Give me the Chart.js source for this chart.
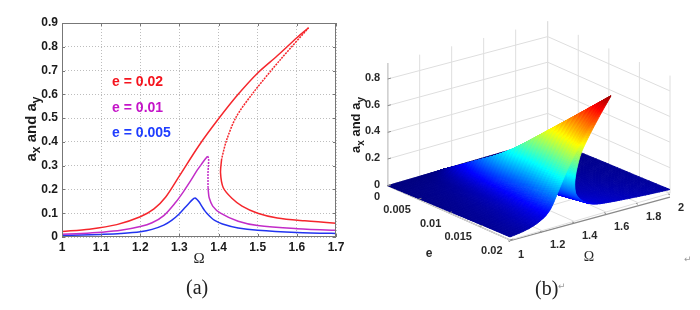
<!DOCTYPE html>
<html>
<head>
<meta charset="utf-8">
<script src="https://cdn.jsdelivr.net/npm/chart.js@4"></script>
<style>
html,body{margin:0;padding:0;background:#fff;width:700px;height:310px;overflow:hidden}
canvas{position:absolute;top:0;filter:blur(0.45px)}
#a{left:0}
#b{left:340px}
.cap{position:absolute;font-family:"Liberation Serif",serif;font-size:20px;color:#222;line-height:22px;filter:blur(0.3px)}
.ret{position:absolute;font-family:"DejaVu Sans",sans-serif;font-size:9px;color:#999}
</style>
</head>
<body>
<canvas id="a" width="350" height="310"></canvas>
<canvas id="b" width="360" height="310"></canvas>
<div class="cap" style="left:186px;top:276px">(a)</div>
<div class="cap" style="left:535px;top:277px">(b)</div>
<div class="ret" style="left:558px;top:281px">↵</div>
<div class="ret" style="left:684px;top:254px">↵</div>
<script>
// ---- values: each curve shares one index layout
// idx 0-13 rising branch, 13-18 fold (dashed when unstable), 18-28 falling branch
const omegaE020 = [1,1.07,1.14,1.2,1.235,1.265,1.3,1.35,1.4,1.45,1.5,1.55,1.6,1.63, 1.56,1.49,1.445,1.42,1.408, 1.405,1.412,1.434,1.46,1.5,1.55,1.62,1.7,1.85,2];
const ampE020   = [.023,.033,.052,.085,.118,.168,.257,.385,.497,.6,.69,.762,.838,.88, .75,.61,.505,.405,.33, .27,.207,.163,.13,.1,.08,.068,.058,.042,.03];
const omegaE015 = [1,1.05,1.1,1.15,1.2,1.24,1.28,1.32,1.36,1.39,1.42,1.45,1.47,1.49, 1.47,1.44,1.42,1.4,1.39, 1.39,1.395,1.41,1.44,1.49,1.55,1.62,1.7,1.85,2];
const ampE015   = [.018,.022,.03,.042,.064,.1,.16,.24,.33,.4,.47,.53,.565,.6, .55,.48,.42,.35,.29, .24,.2,.15,.11,.07,.058,.048,.042,.03,.022];
const omegaE010 = [1,1.05,1.1,1.15,1.2,1.23,1.26,1.29,1.31,1.33,1.345,1.358,1.367,1.372, 1.3745,1.374,1.373,1.373,1.373, 1.374,1.376,1.385,1.405,1.45,1.5,1.6,1.7,1.85,2];
const ampE010   = [.012,.015,.02,.028,.044,.06,.09,.145,.19,.24,.28,.31,.33,.34, .33,.3,.27,.24,.21, .19,.165,.13,.1,.066,.048,.035,.028,.02,.016];
const omegaE005 = [1,1.05,1.1,1.15,1.2,1.23,1.26,1.28,1.3,1.315,1.325,1.332,1.337,1.34, 1.345,1.35,1.355,1.36,1.365, 1.37,1.38,1.39,1.41,1.45,1.5,1.6,1.7,1.85,2];
const ampE005   = [.006,.008,.011,.015,.022,.032,.05,.07,.098,.125,.143,.155,.162,.164, .158,.148,.135,.122,.11, .1,.083,.07,.055,.038,.028,.019,.015,.011,.008];
const omegaE000 = omegaE005;
const ampE000   = [0,0,0,0,0,0,0,0,0,0,0,0,0,0, 0,0,0,0,0, 0,0,0,0,0,0,0,0,0,0];

const xTicksA = [1,1.1,1.2,1.3,1.4,1.5,1.6,1.7];
const yTicksA = [0,.1,.2,.3,.4,.5,.6,.7,.8,.9];
const legendLabels = ['e = 0.02','e = 0.01','e = 0.005'];
const legendColors = ['#f5141e','#c414c8','#1e3cff'];
const lineColors   = ['#f5262c','#c22cc8','#2234f0'];

const eRows     = [0,.005,.01,.015,.02];
const omegaRows = [omegaE000,omegaE005,omegaE010,omegaE015,omegaE020];
const ampRows   = [ampE000,ampE005,ampE010,ampE015,ampE020];
const omegaTicksB = [1,1.2,1.4,1.6,1.8,2];
const eTicksB     = [0,.005,.01,.015,.02];
const eTickText   = ['0','0.005','0.01','0.015','0.02'];
const zTicksB     = [0,.2,.4,.6,.8];
const zTopB = 0.92;

const FONT = '"Liberation Sans",Arial,sans-serif';
Chart.defaults.animation = false;

function pts(xs,ys,from,to){const r=[];for(let i=from;i<=to;i++)r.push({x:xs[i],y:ys[i]});return r;}
function curve(xs,ys,from,to,color,dash){
  return {type:'scatter',showLine:true,data:pts(xs,ys,from,to),borderColor:color,backgroundColor:color,
    borderWidth:1.5,pointRadius:0,tension:.3,borderDash:dash||[]};
}

// subscripted rotated title drawn piece by piece
function ayTitle(ctx,cx,cy,size,sub){
  const parts=[['a',0],['x',1],[' and a',0],['y',1]];
  ctx.save();ctx.translate(cx,cy);ctx.rotate(-Math.PI/2);ctx.fillStyle='#1a1a1a';ctx.textBaseline='alphabetic';ctx.textAlign='left';
  let w=0;parts.forEach(p=>{ctx.font='bold '+(p[1]?sub:size)+'px '+FONT;w+=ctx.measureText(p[0]).width;});
  let x=-w/2;parts.forEach(p=>{ctx.font='bold '+(p[1]?sub:size)+'px '+FONT;ctx.fillText(p[0],x,p[1]?4:0);x+=ctx.measureText(p[0]).width;});
  ctx.restore();
}

// ---- panel (a)
const framePlugin={id:'frame',afterDraw(c){
  const {ctx,chartArea:A,scales:{x,y}}=c;
  ctx.save();ctx.strokeStyle='#777';ctx.lineWidth=1;
  ctx.strokeRect(A.left+.5,A.top+.5,A.right-A.left-1,A.bottom-A.top-1);
  ctx.beginPath();
  xTicksA.forEach(v=>{const p=Math.round(x.getPixelForValue(v))+.5;ctx.moveTo(p,A.top);ctx.lineTo(p,A.top+3);ctx.moveTo(p,A.bottom);ctx.lineTo(p,A.bottom-3);});
  yTicksA.forEach(v=>{const p=Math.round(y.getPixelForValue(v))+.5;ctx.moveTo(A.left,p);ctx.lineTo(A.left+3,p);ctx.moveTo(A.right,p);ctx.lineTo(A.right-3,p);});
  ctx.stroke();
  ctx.textAlign='left';ctx.textBaseline='middle';ctx.font='bold 14px '+FONT;
  const lx=x.getPixelForValue(1.128);
  [.65,.542,.438].forEach((v,i)=>{ctx.fillStyle=legendColors[i];ctx.fillText(legendLabels[i],lx,y.getPixelForValue(v));});
  ctx.restore();
  ayTitle(ctx,36,129,15,12);
}};
new Chart(document.getElementById('a'),{
  type:'scatter',
  data:{datasets:[
    curve(omegaE020,ampE020,0,13,lineColors[0]),
    curve(omegaE020,ampE020,13,18,lineColors[0],[2,1]),
    curve(omegaE020,ampE020,18,28,lineColors[0]),
    curve(omegaE010,ampE010,0,13,lineColors[1]),
    curve(omegaE010,ampE010,13,18,lineColors[1],[2,1]),
    curve(omegaE010,ampE010,18,28,lineColors[1]),
    curve(omegaE005,ampE005,0,28,lineColors[2])
  ]},
  options:{responsive:false,devicePixelRatio:1,
    layout:{padding:{top:23,right:14,left:0,bottom:42}},
    plugins:{legend:{display:false},tooltip:{enabled:false}},
    scales:{
      x:{type:'linear',min:1,max:1.7,
        afterBuildTicks:s=>{s.ticks=xTicksA.map(v=>({value:v}));},
        afterFit:s=>{s.height=31;},
        grid:{color:'#bdbdbd',borderDash:[1,2],drawTicks:false,lineWidth:1},border:{display:false,dash:[1,2]},
        ticks:{padding:3,maxRotation:0,autoSkip:false,color:'#1a1a1a',font:{family:FONT,weight:'bold',size:12},callback:v=>String(+v.toFixed(1))},
        title:{display:true,text:'Ω',color:'#222',padding:{top:3,bottom:0},font:{family:'"Liberation Serif",serif',size:15}}},
      y:{type:'linear',min:0,max:.9,
        afterBuildTicks:s=>{s.ticks=yTicksA.map(v=>({value:v}));},
        afterFit:s=>{s.width=62;},
        grid:{color:'#bdbdbd',drawTicks:false,lineWidth:1},border:{display:false,dash:[1,2]},
        ticks:{padding:4,autoSkip:false,color:'#1a1a1a',font:{family:FONT,weight:'bold',size:12},callback:v=>String(+v.toFixed(1))}}
    }
  },
  plugins:[framePlugin]
});

// ---- panel (b): oblique view of the (Ω, e, amplitude) box
function project(om,e,z){
  const a=om-1,b=e/0.02,zs=400-16*a;
  return {x:(143+480*a+367*b)/3,y:(497-140*a+163*b-z*zs)/3+20};
}
function seg(p,q,color,width){
  return {type:'scatter',showLine:true,data:[project(...p),project(...q)],borderColor:color,borderWidth:width||1,pointRadius:0};
}
const wallColor='#dedede',axisColor='#8a8a8a',E1=eTicksB[4];
const boxLines=[];
omegaTicksB.forEach(o=>{boxLines.push(seg([o,0,0],[o,0,zTopB],wallColor));boxLines.push(seg([o,0,0],[o,E1,0],wallColor));});
eTicksB.forEach(e=>{boxLines.push(seg([2,e,0],[2,e,zTopB],wallColor));boxLines.push(seg([1,e,0],[2,e,0],wallColor));});
zTicksB.forEach(z=>{boxLines.push(seg([1,0,z],[2,0,z],wallColor));boxLines.push(seg([2,0,z],[2,E1,z],wallColor));});
boxLines.push(seg([1,0,0],[1,0,zTopB],axisColor,1.2));
boxLines.push(seg([1,0,0],[1,E1,0],axisColor,1.2));
boxLines.push(seg([1,E1,-.005],[2,E1,-.03],axisColor,1.2));

function jet(t){
  t=Math.max(0,Math.min(1,t));
  const f=(c)=>Math.round(255*Math.max(0,Math.min(1,1.5-Math.abs(4*t-c))));
  return 'rgb('+f(3)+','+f(2)+','+f(1)+')';
}
function cr(arr,t){
  const n=arr.length-1,i=Math.min(Math.floor(t),n-1),u=t-i;
  const p0=arr[Math.max(i-1,0)],p1=arr[i],p2=arr[i+1],p3=arr[Math.min(i+2,n)];
  return .5*(2*p1+(p2-p0)*u+(2*p0-5*p1+4*p2-p3)*u*u+(3*p1-p0-3*p2+p3)*u*u*u);
}
const surfacePlugin={id:'surface',afterDatasetsDraw(c){
  const {ctx,scales:{x,y}}=c;
  const N=omegaRows[0].length-1,M=eRows.length-1,SU=8,SV=10;
  const cols=[];
  for(let i=0;i<=N*SU;i++){
    const u=i/SU;
    const oms=omegaRows.map(r=>cr(r,u)),zs=ampRows.map(r=>cr(r,u));
    const col=[];
    for(let j=0;j<=M*SV;j++){
      const v=j/SV,e=cr(eRows,v),z=Math.max(0,cr(zs,v)),p=project(cr(oms,v),e,z);
      col.push({px:x.getPixelForValue(p.x),py:y.getPixelForValue(p.y),z});
    }
    cols.push(col);
  }
  ctx.save();ctx.lineWidth=.8;ctx.lineJoin='round';
  for(let i=cols.length-2;i>=0;i--){
    for(let j=0;j<cols[i].length-1;j++){
      const a=cols[i][j],b=cols[i+1][j],d=cols[i+1][j+1],f=cols[i][j+1];
      const col=jet((a.z+b.z+d.z+f.z)/4/0.9);
      ctx.fillStyle=col;ctx.strokeStyle=col;
      ctx.beginPath();ctx.moveTo(a.px,a.py);ctx.lineTo(b.px,b.py);ctx.lineTo(d.px,d.py);ctx.lineTo(f.px,f.py);ctx.closePath();ctx.fill();ctx.stroke();
    }
  }
  // ticks and labels
  ctx.strokeStyle=axisColor;ctx.lineWidth=1;ctx.beginPath();
  omegaTicksB.forEach(o=>{const p=project(o,E1,-.012),q=project(o,E1*.985,-.012);ctx.moveTo(p.x,p.y);ctx.lineTo(q.x,q.y);});
  eTicksB.forEach(e=>{const p=project(1,e,0),q=project(1.02,e,0);ctx.moveTo(p.x,p.y);ctx.lineTo(q.x,q.y);});
  zTicksB.forEach(z=>{const p=project(1,0,z),q=project(1.02,0,z);ctx.moveTo(p.x,p.y);ctx.lineTo(q.x,q.y);});
  ctx.stroke();
  ctx.fillStyle='#2a2a2a';ctx.font='bold 11px '+FONT;ctx.textBaseline='middle';
  ctx.textAlign='left';
  omegaTicksB.forEach(o=>{const p=project(o,E1,0);ctx.fillText(String(o),p.x+8,p.y+14.5);});
  ctx.textAlign='right';
  eTicksB.forEach((e,i)=>{const p=project(1,e,0);ctx.fillText(eTickText[i],p.x-7.5,p.y+11);});
  zTicksB.forEach(z=>{const p=project(1,0,z);ctx.fillText(String(z),p.x-7.5,p.y-1);});
  ctx.textAlign='center';ctx.font='bold 12px '+FONT;
  ctx.fillText('e',89,254);
  ctx.font='14px "Liberation Serif",serif';ctx.fillText('Ω',249,257);
  ctx.restore();
  ayTitle(ctx,20,125,13,10);
}};
const rowSets=eRows.map((e,k)=>({type:'scatter',showLine:false,pointRadius:0,
  data:omegaRows[k].map((o,i)=>project(o,e,ampRows[k][i]))}));
new Chart(document.getElementById('b'),{
  type:'scatter',
  data:{datasets:boxLines.concat(rowSets)},
  options:{responsive:false,devicePixelRatio:1,layout:{padding:0},
    plugins:{legend:{display:false},tooltip:{enabled:false}},
    scales:{
      x:{type:'linear',min:0,max:360,display:false},
      y:{type:'linear',min:0,max:310,reverse:true,display:false}
    }},
  plugins:[surfacePlugin]
});
</script>
</body>
</html>
